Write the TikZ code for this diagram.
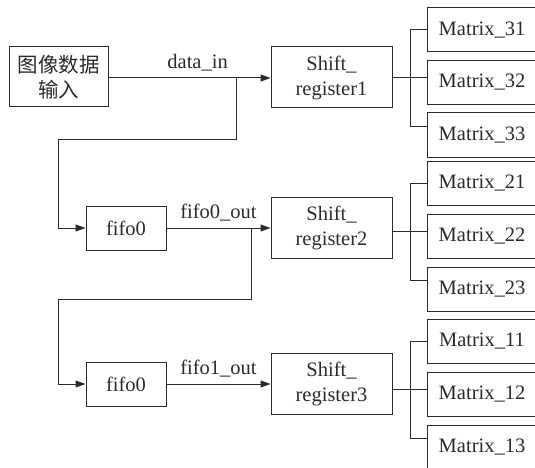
\documentclass[tikz,border=0pt]{standalone}
\usepackage{fontspec}
\setmainfont{Liberation Serif}
\newfontfamily\cjk{Noto Sans CJK SC}
\usetikzlibrary{arrows.meta}
\definecolor{ink}{HTML}{2B2B2B}
\begin{document}
\begin{tikzpicture}[x=1pt,y=-1pt,
  every node/.style={font=\fontsize{20.5}{25}\selectfont, text=ink},
  box/.style={draw=ink, line width=1pt, inner sep=0pt, align=center},
  sbox/.style={box, minimum width=121pt, minimum height=61pt},
  fbox/.style={box, minimum width=80pt, minimum height=44pt},
  mbox/.style={box, minimum width=110pt, minimum height=44pt},
  wire/.style={draw=ink, line width=1pt},
  arr/.style={wire, -{Triangle[length=10pt,width=7pt]}},
  lbl/.style={inner sep=0pt}
]
\useasboundingbox (0,0) rectangle (535,468);
\clip (0,0) rectangle (535,468);

% left column
\node[box, minimum width=99pt, minimum height=60pt] (in) at (58.5,77) {\cjk 图像数据\\\cjk 输入};
\node[fbox] (f0) at (126,228) {fifo0};
\node[fbox] (f1) at (126,384) {fifo0};

% shift registers
\node[sbox] (s1) at (331.5,77.5) {Shift\_\\register1};
\node[sbox] (s2) at (331.5,227.5) {Shift\_\\register2};
\node[sbox] (s3) at (331.5,383.5) {Shift\_\\register3};

% matrices
\node[mbox] (m31) at (482,30) {Matrix\_31};
\node[mbox] (m32) at (482,82.5) {Matrix\_32};
\node[mbox] (m33) at (482,135) {Matrix\_33};
\node[mbox] (m21) at (482,183.5) {Matrix\_21};
\node[mbox] (m22) at (482,236) {Matrix\_22};
\node[mbox] (m23) at (482,289) {Matrix\_23};
\node[mbox] (m11) at (482,341) {Matrix\_11};
\node[mbox] (m12) at (482,394.5) {Matrix\_12};
\node[mbox] (m13) at (482,447) {Matrix\_13};

% data flow
\coordinate (d0) at (236,78);
\coordinate (d1) at (251,228);
\draw[arr] (in.east |- d0) -- (s1.west |- d0) node[lbl, pos=0.55, above=6pt] {data\_in};
\draw[arr] (d0) -- ++(0,61) -| (58,228) -- (f0.west);
\draw[arr] (f0.east) -- (s2.west |- f0.east) node[lbl, midway, above=6pt] {fifo0\_out};
\draw[arr] (d1) -- ++(0,71) -| (58,384) -- (f1.west);
\draw[arr] (f1.east) -- (s3.west |- f1.east) node[lbl, midway, above=6pt] {fifo1\_out};

% buses
\coordinate (b1) at (410,78);
\draw[wire] (s1.east |- b1) -- (m32.west |- b1);
\draw[wire] (m31.west) -| (410,127) -- (m33.west |- 410,127);
\coordinate (b2) at (410,231);
\draw[wire] (s2.east |- b2) -- (m22.west |- b2);
\draw[wire] (m21.west) -| (410,280) -- (m23.west |- 410,280);
\coordinate (b3) at (410,389);
\draw[wire] (s3.east |- b3) -- (m12.west |- b3);
\draw[wire] (m11.west) -| (410,438) -- (m13.west |- 410,438);
\end{tikzpicture}
\end{document}
